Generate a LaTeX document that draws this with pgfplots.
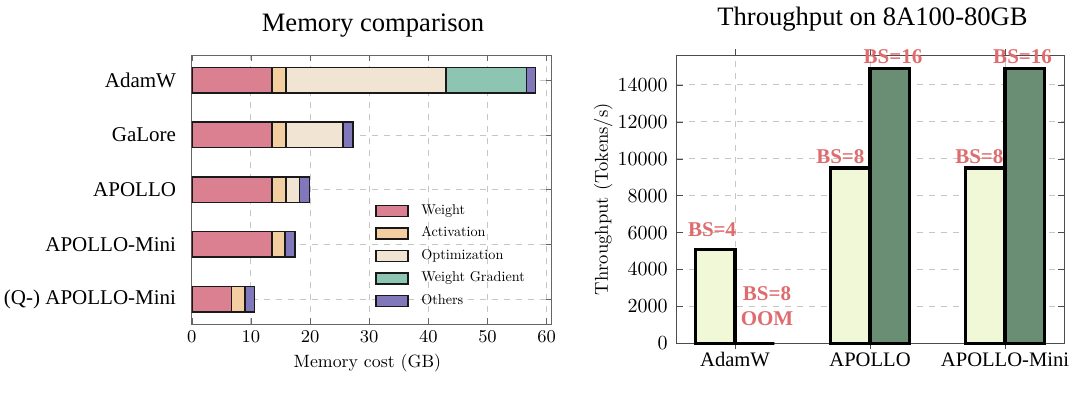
\documentclass[border=0pt]{standalone}
\usepackage{pgfplots}
\pgfplotsset{compat=1.18}
\usepackage{fontspec}
\newfontfamily\tnr{Liberation Serif}
\newfontfamily\lmten{lmroman10-regular.otf}
\definecolor{cW}{RGB}{218,128,145}
\definecolor{cA}{RGB}{242,206,160}
\definecolor{cO}{RGB}{241,228,210}
\definecolor{cG}{RGB}{142,196,178}
\definecolor{cX}{RGB}{128,120,186}
\definecolor{cL}{RGB}{240,248,215}
\definecolor{cD}{RGB}{106,142,116}
\definecolor{cR}{RGB}{222,108,110}
\begin{document}
\begin{tikzpicture}
\path[use as bounding box] (0,0) rectangle (540pt,196pt);
\node[font=\tnr\fontsize{13.3}{15}\selectfont] at (186.5pt,183pt) {Memory comparison};
\node[font=\tnr\fontsize{13.3}{15}\selectfont] at (436.25pt,186.5pt) {Throughput on 8A100-80GB};
% ---------------- left axis
\begin{axis}[
  at={(95.85pt,33.85pt)}, anchor=south west,
  scale only axis, width=180pt, height=134.65pt,
  xbar stacked, bar width=12.75pt,
  xmin=0, xmax=60.85, ymin=-0.46, ymax=4.46,
  xtick={0,10,...,60},
  ytick={0,1,2,3,4},
  yticklabels={(Q-) APOLLO-Mini,APOLLO-Mini,APOLLO,GaLore,AdamW},
  yticklabel style={font=\tnr\fontsize{10.5}{12}\selectfont, xshift=-4.3pt},
  xticklabel style={font=\fontsize{9}{10}\selectfont},
  xlabel={Memory cost (GB)},
  xlabel style={font=\lmten\fontsize{8.9}{10}\selectfont, at={(axis description cs:0.488,0)}, anchor=center, yshift=-19.35pt},
  grid=major,
  grid style={dashed, gray!45, line width=0.4pt},
  axis line style={black!60},
  major tick style={black!60},
  major tick length=3pt,
  every axis plot/.append style={draw=black!90, line width=0.8pt,
     legend image code/.code={\draw[##1,/tikz/.cd] (0pt,-2.75pt) rectangle (16pt,2.75pt);}},
  legend style={at={(0.509,0.447)}, anchor=north west, draw=none, fill=none,
     inner sep=0pt, row sep=4.75pt, font=\lmten\fontsize{7.1}{8}\selectfont,
     nodes={inner sep=0pt, text height=5pt, text depth=1.5pt},
     /tikz/every odd column/.append style={column sep=6.2pt}},
  legend cell align=left,
]
\addplot[fill=cW] coordinates {(13.6,4) (13.6,3) (13.6,2) (13.6,1) (6.75,0)};
\addplot[fill=cA] coordinates {(2.3,4) (2.3,3) (2.3,2) (2.2,1) (2.3,0)};
\addplot[fill=cO] coordinates {(27.1,4) (9.7,3) (2.3,2) (0.05,1) (0,0)};
\addplot[fill=cG] coordinates {(13.6,4) (0,3) (0,2) (0,1) (0,0)};
\addplot[fill=cX] coordinates {(1.5,4) (1.7,3) (1.7,2) (1.6,1) (1.55,0)};
\legend{Weight,Activation,Optimization,Weight Gradient,Others}
\end{axis}
% ---------------- right axis
\begin{axis}[
  at={(338.35pt,24.35pt)}, anchor=south west,
  scale only axis, width=193.65pt, height=144.15pt,
  ybar=0pt, bar width=19.7pt,
  xmin=-0.432, xmax=2.437, ymin=0, ymax=15620,
  xtick={0,1,2},
  xticklabels={AdamW,APOLLO,APOLLO-Mini},
  xticklabel style={font=\tnr\fontsize{10.3}{12}\selectfont, yshift=2pt},
  ytick={0,2000,...,14000},
  yticklabel style={font=\fontsize{9.7}{11}\selectfont, xshift=-1pt},
  /pgf/number format/1000 sep={},
  scaled y ticks=false,
  ylabel={Throughput (Tokens/s)},
  ylabel style={font=\lmten\fontsize{9.3}{11}\selectfont, at={(axis description cs:-0.19,0.5)}, anchor=center},
  grid=major,
  grid style={dashed, gray!45, line width=0.4pt},
  axis line style={black!70},
  major tick style={black!70},
  major tick length=3pt,
  every axis plot/.append style={draw=black, line width=1.6pt},
  clip=false,
]
\addplot[fill=cL] coordinates {(0,5100) (1,9500) (2,9500)};
\addplot[fill=cD] coordinates {(0,0) (1,14900) (2,14900)};
\coordinate (l1) at (axis cs:-0.17,6140);
\coordinate (l2) at (axis cs:0.237,2672);
\coordinate (l3) at (axis cs:0.237,1317);
\coordinate (l4) at (axis cs:0.78,10098);
\coordinate (l5) at (axis cs:1.17,15517);
\coordinate (l6) at (axis cs:1.81,10098);
\coordinate (l7) at (axis cs:2.13,15517);
\end{axis}
\begin{scope}[every node/.style={font=\tnr\bfseries\fontsize{10.5}{12}\selectfont, text=cR}]
\node at (l1) {BS=4};
\node at (l2) {BS=8};
\node at (l3) {OOM};
\node at (l4) {BS=8};
\node at (l5) {BS=16};
\node at (l6) {BS=8};
\node at (l7) {BS=16};
\end{scope}
\end{tikzpicture}
\end{document}
